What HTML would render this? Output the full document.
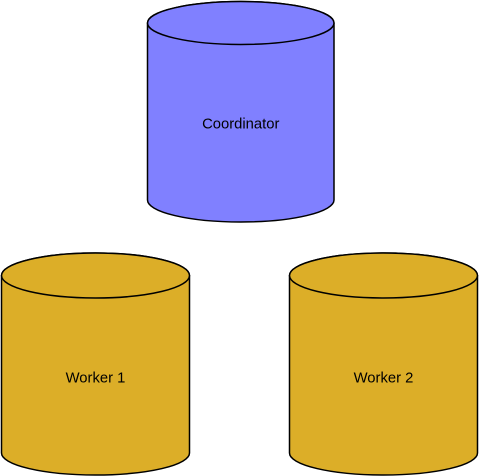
<!DOCTYPE html>
<html><head><style>html,body{margin:0;padding:0;background:#fff}svg{display:block}</style></head><body>
<svg width="479" height="476" viewBox="0 0 479 476" xmlns="http://www.w3.org/2000/svg" font-family="Liberation Sans, sans-serif" font-size="14.8">
<g stroke="#000" stroke-width="1.5">
<path d="M147.5,23 L147.5,200 A93.25,22 0 0 0 334,200 L334,23 A93.25,21.5 0 0 0 147.5,23 Z" fill="#8080ff"/>
<ellipse cx="240.75" cy="23" rx="93.25" ry="21.5" fill="#8080ff"/>
<path d="M1.5,275.5 L1.5,453 A94,22 0 0 0 189.5,453 L189.5,275.5 A94,22.5 0 0 0 1.5,275.5 Z" fill="#dcae28"/>
<ellipse cx="95.5" cy="275.5" rx="94" ry="22.5" fill="#dcae28"/>
<path d="M289.5,275.5 L289.5,453 A94,22 0 0 0 477.5,453 L477.5,275.5 A94,22.5 0 0 0 289.5,275.5 Z" fill="#dcae28"/>
<ellipse cx="383.5" cy="275.5" rx="94" ry="22.5" fill="#dcae28"/>
</g>
<g fill="#000" text-anchor="middle">
<text x="240.75" y="128.5">Coordinator</text>
<text x="95.5" y="382.5">Worker 1</text>
<text x="383.5" y="382.5">Worker 2</text>
</g>
</svg>
</body></html>
